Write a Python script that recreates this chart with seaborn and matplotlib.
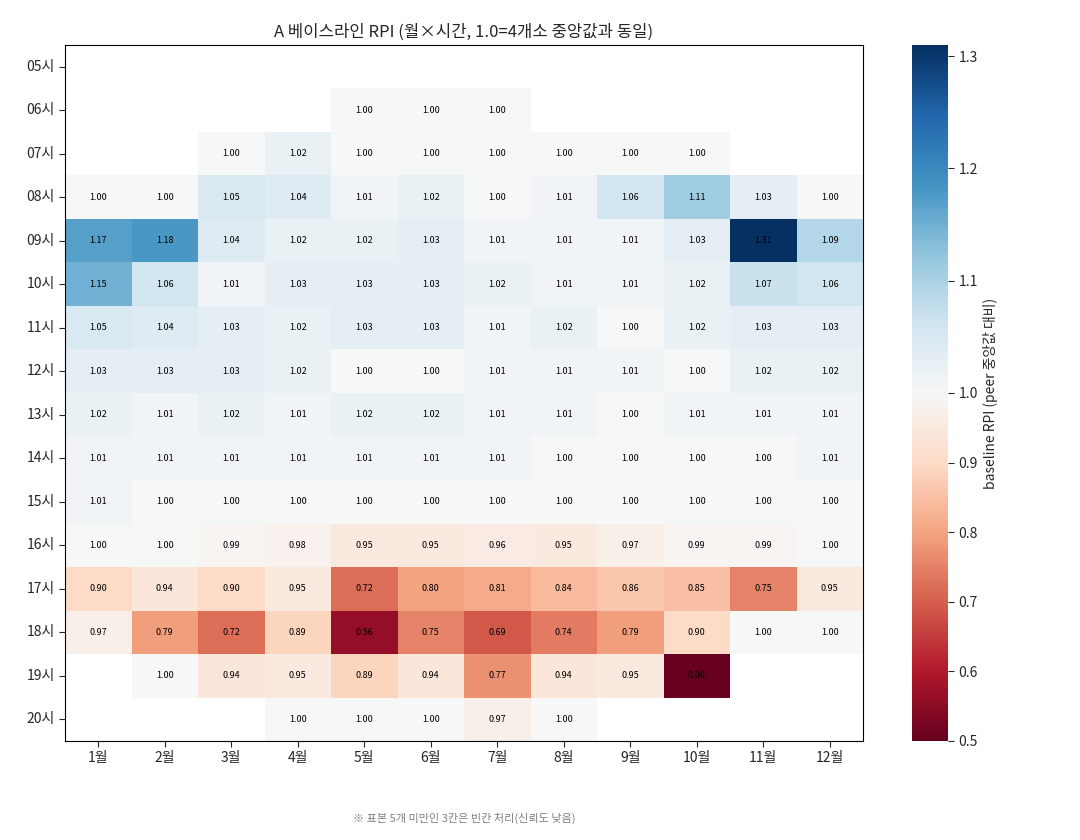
import numpy as np
import pandas as pd
import matplotlib
matplotlib.use("Agg")
import matplotlib.pyplot as plt
from matplotlib.colors import TwoSlopeNorm
import seaborn as sns

sns.set_style("white")
plt.rcParams['font.family'] = ['Noto Sans CJK KR', 'DejaVu Sans']
plt.rcParams['axes.unicode_minus'] = False

months = [f"{m}월" for m in range(1, 13)]
hours = [f"{h:02d}시" for h in range(5, 21)]
n = np.nan

h05 = [n, n, n, n, n, n, n, n, n, n, n, n]
h06 = [n, n, n, n, 1.00, 1.00, 1.00, n, n, n, n, n]
h07 = [n, n, 1.00, 1.02, 1.00, 1.00, 1.00, 1.00, 1.00, 1.00, n, n]
h08 = [1.00, 1.00, 1.05, 1.04, 1.01, 1.02, 1.00, 1.01, 1.06, 1.11, 1.03, 1.00]
h09 = [1.17, 1.18, 1.04, 1.02, 1.02, 1.03, 1.01, 1.01, 1.01, 1.03, 1.31, 1.09]
h10 = [1.15, 1.06, 1.01, 1.03, 1.03, 1.03, 1.02, 1.01, 1.01, 1.02, 1.07, 1.06]
h11 = [1.05, 1.04, 1.03, 1.02, 1.03, 1.03, 1.01, 1.02, 1.00, 1.02, 1.03, 1.03]
h12 = [1.03, 1.03, 1.03, 1.02, 1.00, 1.00, 1.01, 1.01, 1.01, 1.00, 1.02, 1.02]
h13 = [1.02, 1.01, 1.02, 1.01, 1.02, 1.02, 1.01, 1.01, 1.00, 1.01, 1.01, 1.01]
h14 = [1.01, 1.01, 1.01, 1.01, 1.01, 1.01, 1.01, 1.00, 1.00, 1.00, 1.00, 1.01]
h15 = [1.01, 1.00, 1.00, 1.00, 1.00, 1.00, 1.00, 1.00, 1.00, 1.00, 1.00, 1.00]
h16 = [1.00, 1.00, 0.99, 0.98, 0.95, 0.95, 0.96, 0.95, 0.97, 0.99, 0.99, 1.00]
h17 = [0.90, 0.94, 0.90, 0.95, 0.72, 0.80, 0.81, 0.84, 0.86, 0.85, 0.75, 0.95]
h18 = [0.97, 0.79, 0.72, 0.89, 0.56, 0.75, 0.69, 0.74, 0.79, 0.90, 1.00, 1.00]
h19 = [n, 1.00, 0.94, 0.95, 0.89, 0.94, 0.77, 0.94, 0.95, 0.00, n, n]
h20 = [n, n, n, 1.00, 1.00, 1.00, 0.97, 1.00, n, n, n, n]

df = pd.DataFrame([h05, h06, h07, h08, h09, h10, h11, h12, h13, h14, h15,
                   h16, h17, h18, h19, h20], index=hours, columns=months)

fig = plt.figure(figsize=(10.8, 8.4), dpi=100)
ax = fig.add_axes([65/1080, 1-741/840, 798/1080, 696/840])
cax = fig.add_axes([912/1080, 1-741/840, 36/1080, 696/840])

norm = TwoSlopeNorm(vmin=0.5, vcenter=1.0, vmax=1.31)
sns.heatmap(df, ax=ax, cbar_ax=cax, cmap="RdBu", norm=norm,
            annot=True, fmt=".2f", annot_kws={"size": 6.5, "color": "black"},
            cbar_kws={"label": "baseline RPI (peer 중앙값 대비)"})

ax.set_title("A 베이스라인 RPI (월×시간, 1.0=4개소 중앙값과 동일)", fontsize=12)
ax.set_xlabel("")
ax.set_ylabel("")
ax.tick_params(axis="both", length=4, labelsize=10, left=True, bottom=True)
ax.set_yticklabels(hours, rotation=0)
ax.set_xticklabels(months, rotation=0)
for s in ax.spines.values():
    s.set_visible(True)
    s.set_color("black")
    s.set_linewidth(0.8)

cax.set_yticks([0.5, 0.6, 0.7, 0.8, 0.9, 1.0, 1.1, 1.2, 1.3])
cax.set_yticklabels(["0.5", "0.6", "0.7", "0.8", "0.9", "1.0", "1.1", "1.2", "1.3"])
cax.tick_params(labelsize=10, length=4, right=True)
cax.yaxis.label.set_size(10)

fig.text(0.43, 1-818/840, "※ 표본 5개 미만인 3칸은 빈칸 처리(신뢰도 낮음)",
         ha="center", va="center", fontsize=8, color="gray")

fig.savefig("out.png", dpi=100)
